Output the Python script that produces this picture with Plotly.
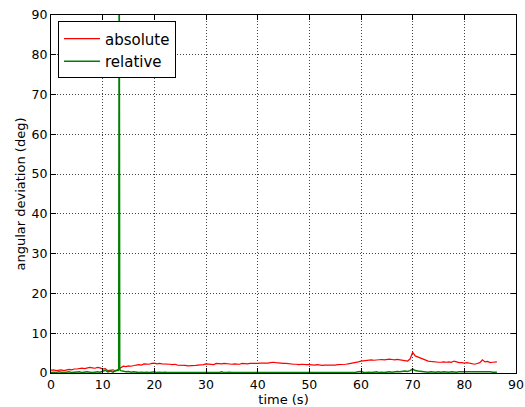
import plotly.graph_objects as go

# time samples (s), 0.5 s step
time_s = [i * 0.5 for i in range(0, 173)] + [86.3]

absolute_deg = [
    0.7, 0.8, 0.6, 0.7, 0.8, 0.6, 0.7, 0.9, 0.8, 1.0,   # 0-4.5
    1.0, 1.1, 1.2, 1.1, 1.3, 1.4, 1.3, 1.2, 1.4, 1.3,   # 5-9.5
    1.0, 1.1, 0.6, 0.7, 0.8, 0.5, 0.9, 1.5, 1.7, 1.6,   # 10-14.5
    1.8, 1.7, 1.9, 2.0, 2.1, 2.0, 2.3, 2.2, 2.2, 2.4,   # 15-19.5
    2.5, 2.3, 2.4, 2.3, 2.3, 2.2, 2.2, 2.1, 2.2, 2.0,   # 20-24.5
    2.0, 1.9, 1.9, 1.8, 1.8, 1.9, 1.9, 2.0, 2.0, 2.1,   # 25-29.5
    2.3, 2.2, 2.2, 2.1, 2.4, 2.3, 2.3, 2.4, 2.3, 2.2,   # 30-34.5
    2.2, 2.3, 2.3, 2.2, 2.4, 2.3, 2.3, 2.4, 2.4, 2.3,   # 35-39.5
    2.4, 2.5, 2.5, 2.4, 2.5, 2.6, 2.7, 2.6, 2.5, 2.5,   # 40-44.5
    2.4, 2.4, 2.3, 2.3, 2.2, 2.2, 2.1, 2.2, 2.1, 2.1,   # 45-49.5
    2.1, 2.0, 2.0, 2.1, 2.0, 1.9, 2.0, 2.0, 2.0, 1.9,   # 50-54.5
    2.0, 2.1, 2.1, 2.2, 2.2, 2.3, 2.4, 2.5, 2.6, 2.8,   # 55-59.5
    3.0, 3.1, 3.2, 3.2, 3.3, 3.2, 3.3, 3.4, 3.4, 3.3,   # 60-64.5
    3.4, 3.5, 3.4, 3.3, 3.4, 3.3, 3.3, 3.2, 3.0, 3.5,   # 65-69.5
    5.2, 4.3, 4.0, 3.7, 3.4, 3.2, 3.0, 2.9, 2.8, 2.8,   # 70-74.5
    2.7, 2.7, 2.8, 2.7, 2.8, 2.7, 3.0, 2.8, 2.6, 2.6,   # 75-79.5
    2.5, 2.6, 2.5, 2.3, 2.2, 2.4, 2.6, 3.3, 2.8, 2.9,   # 80-84.5
    2.6, 2.7, 2.8, 2.8,                                 # 85-86.5
]

relative_deg = [
    0.1, 0.2, 0.1, 0.3, 0.2, 0.1, 0.2, 0.3, 0.1, 0.2,
    0.2, 0.3, 0.1, 0.2, 0.3, 0.2, 0.1, 0.2, 0.3, 0.2,
    0.4, 0.7, 0.3, 0.5, 0.2, 0.6, 0.6, 0.6, 0.5, 0.3,
    0.4, 0.2, 0.3, 0.2, 0.1, 0.2, 0.1, 0.2, 0.1, 0.2,
    0.3, 0.1, 0.2, 0.1, 0.2, 0.1, 0.1, 0.2, 0.1, 0.1,
    0.1, 0.2, 0.1, 0.1, 0.2, 0.1, 0.1, 0.2, 0.1, 0.1,
    0.2, 0.1, 0.1, 0.2, 0.1, 0.1, 0.3, 0.1, 0.1, 0.2,
    0.1, 0.1, 0.2, 0.1, 0.1, 0.2, 0.1, 0.1, 0.2, 0.1,
    0.1, 0.2, 0.1, 0.1, 0.2, 0.1, 0.1, 0.2, 0.1, 0.1,
    0.1, 0.2, 0.1, 0.1, 0.2, 0.1, 0.1, 0.2, 0.1, 0.1,
    0.1, 0.2, 0.1, 0.1, 0.2, 0.1, 0.1, 0.2, 0.1, 0.1,
    0.1, 0.2, 0.1, 0.1, 0.2, 0.1, 0.1, 0.2, 0.2, 0.3,
    0.4, 0.2, 0.1, 0.2, 0.1, 0.2, 0.3, 0.1, 0.2, 0.1,
    0.2, 0.3, 0.2, 0.3, 0.4, 0.3, 0.4, 0.5, 0.4, 0.6,
    1.0, 0.6, 0.5, 0.4, 0.3, 0.3, 0.2, 0.3, 0.2, 0.2,
    0.3, 0.2, 0.3, 0.2, 0.2, 0.3, 0.2, 0.2, 0.3, 0.3,
    0.4, 0.3, 0.3, 0.4, 0.3, 0.4, 0.3, 0.3, 0.4, 0.3,
    0.3, 0.2, 0.2, 0.2,
]

# the brief spike of the relative deviation (goes off the top of the chart)
spike_time_s = [13.1, 13.2, 13.3]
spike_deg = [0.8, 120.0, 0.9]

x_ticks = [0, 10, 20, 30, 40, 50, 60, 70, 80, 90]
y_ticks = [0, 10, 20, 30, 40, 50, 60, 70, 80, 90]

rel_pts = sorted(list(zip(time_s, relative_deg)) + list(zip(spike_time_s, spike_deg)))
rel_t = [p[0] for p in rel_pts]
rel_v = [p[1] for p in rel_pts]

fig = go.Figure()
fig.add_trace(go.Scatter(x=time_s, y=absolute_deg, mode="lines", name="absolute",
                         line=dict(color="#ff0000", width=1.2)))
fig.add_trace(go.Scatter(x=rel_t, y=rel_v, mode="lines", name="relative",
                         line=dict(color="#008000", width=1.5)))

font = "DejaVu Sans, sans-serif"
axis_common = dict(
    showline=True, linecolor="black", linewidth=1, mirror="ticks",
    ticks="inside", ticklen=5, tickcolor="black", tickwidth=1,
    showgrid=True, gridcolor="#444444", griddash="1px,2px", gridwidth=1,
    zeroline=False, automargin=False,
    tickfont=dict(family=font, size=12.5, color="black"),
)

W, H = 525, 407
L, R, T, B = 51, 9, 15, 34
plot_w = W - L - R

fig.update_layout(
    width=W, height=H,
    margin=dict(l=L, r=R, t=T, b=B),
    paper_bgcolor="white", plot_bgcolor="white",
    font=dict(family=font, size=13, color="black"),
    xaxis=dict(range=[0, 90], tickvals=x_ticks,
               title=dict(text="time (s)", font=dict(family=font, size=13), standoff=9),
               **axis_common),
    yaxis=dict(range=[0, 90], tickvals=y_ticks, **axis_common),
    annotations=[dict(text="angular deviation (deg)", xref="paper", yref="paper",
                      x=(19.5 - L) / plot_w, y=0.5, xanchor="center", yanchor="middle",
                      textangle=-90, showarrow=False,
                      font=dict(family=font, size=13, color="black"))],
    legend=dict(x=0.015, y=0.982, xanchor="left", yanchor="top",
                bgcolor="white", bordercolor="black", borderwidth=1,
                font=dict(family=font, size=15, color="black"),
                tracegroupgap=0, itemwidth=36),
    showlegend=True,
)

fig.write_html("out.html", config={"displayModeBar": False},
               post_script="document.body.style.margin='0px';document.body.style.overflow='hidden';")
